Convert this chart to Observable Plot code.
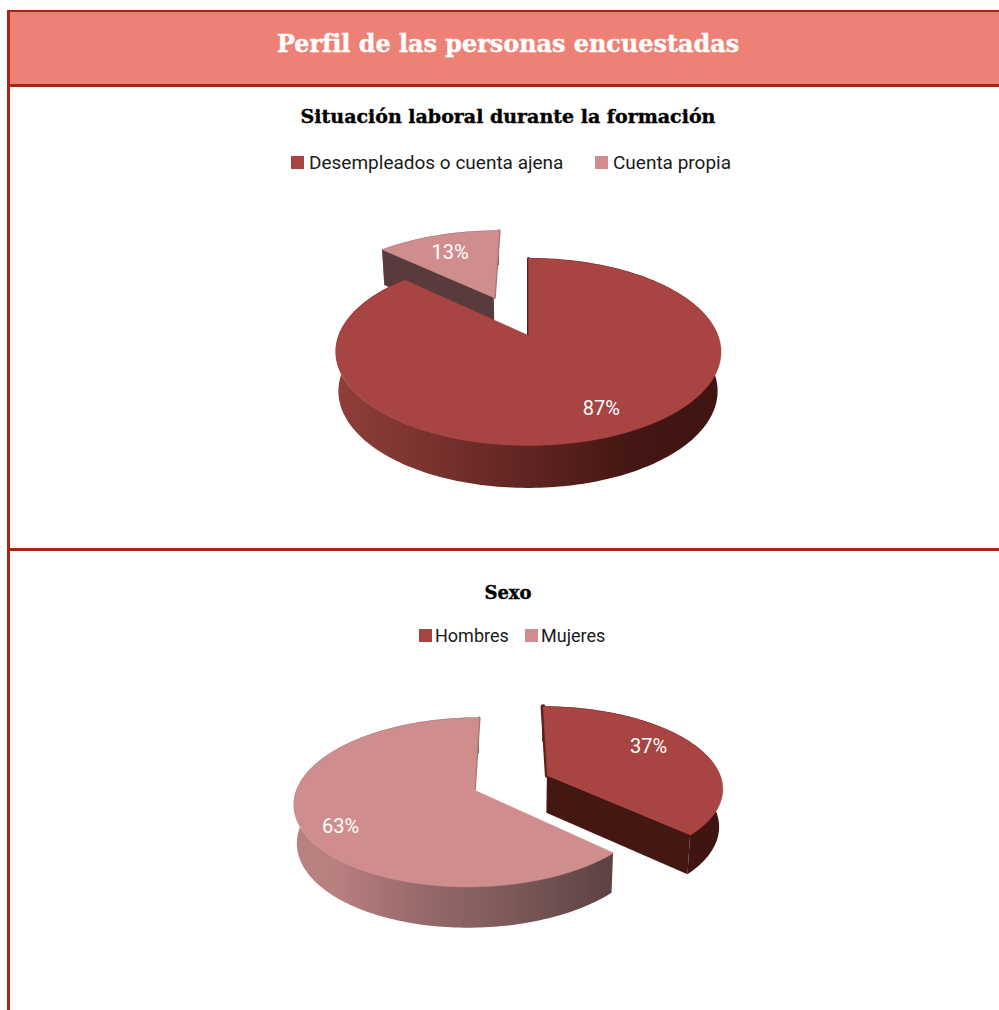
<!DOCTYPE html>
<html lang="es">
<head>
<meta charset="utf-8">
<script src="https://cdn.jsdelivr.net/npm/d3@7"></script>
<script src="https://cdn.jsdelivr.net/npm/@observablehq/plot@0.6"></script>
<style>
html,body{margin:0;padding:0;background:#fff;overflow:hidden}
#page{position:relative;width:999px;height:1010px;overflow:hidden;background:#fff}
#page>div,#page>svg,#page>span{position:absolute}
.bar{background:#aa2412}
#head{left:10px;top:12px;width:989px;height:72px;background:#ee8176}
.ttl{font-family:"DejaVu Serif",serif;font-weight:700;white-space:nowrap;transform:translate(-50%,-50%);-webkit-text-stroke:.4px currentColor}
.lg{font-family:Roboto,sans-serif;color:#1a1a1a;white-space:nowrap;transform:translateY(-50%)}
.sw{width:13px;height:13px}
</style>
</head>
<body>
<div id="page"></div>
<script>
// ---- data
const pageTitle = "Perfil de las personas encuestadas";
const chart1Title = "Situación laboral durante la formación";
const chart1Labels = ["Desempleados o cuenta ajena", "Cuenta propia"];
const chart1Values = [87, 13];
const chart2Title = "Sexo";
const chart2Labels = ["Hombres", "Mujeres"];
const chart2Values = [37, 63];

// ---- styles
const red = {top:"#a84441", wall:"#441713", sliver:"#5a1f1b", stops:["#8f3f3a","#7a322d","#5f2522","#461714","#3f1411"]};
const pink = {top:"#cf8e8d", wall:"#5a3b3b", sliver:"#a87272", stops:["#b98080","#97696a","#7d5959","#5f4444","#533838"]};
const seriesStyles = [red, pink];

const page = document.getElementById("page");
function el(cls, css, text){
  const d = document.createElement("div");
  if (cls) d.className = cls;
  d.style.cssText = css;
  if (text) d.textContent = text;
  page.appendChild(d);
  return d;
}

// page furniture
el("", "", "").id = "head";
el("bar", "left:7px;top:10px;width:992px;height:2px");
el("bar", "left:7px;top:10px;width:3px;height:1000px");
el("bar", "left:7px;top:84px;width:992px;height:3px");
el("bar", "left:7px;top:548px;width:992px;height:3px");
el("ttl", "left:508px;top:44px;font-size:23.9px;color:#fff", pageTitle);
el("ttl", "left:508px;top:116px;font-size:19px;color:#000", chart1Title);
el("ttl", "left:508px;top:592px;font-size:18px;color:#000", chart2Title);

// legends
function legend(labels, y, swatchXs, gap, size){
  labels.forEach((t,i)=>{
    el("sw", `left:${swatchXs[i]}px;top:${y-6.5}px;background:${seriesStyles[i].top}`);
    el("lg", `left:${swatchXs[i]+gap}px;top:${y}px;font-size:${size}px`, t);
  });
}
legend(chart1Labels, 162, [291, 595], 18, 19);
legend(chart2Labels, 635, [419, 525], 16, 18);

let gradientId = 0;
// pie in perspective
function pie({values, explode, top, height, cx, cy, R, Rf, k, H, order, sliver, labelPos}){
  const project = (u,v) => {
    const w = 1/(1-k*v), x = cx+R*u*w, y = cy+Rf*v*w;
    return {x, y, w, x2: cx+(x-cx)*0.985, y2: y+H*Math.sqrt(w)};
  };
  const total = d3.sum(values);
  let acc = 0;
  const slices = values.map((val,i)=>{
    const a0 = acc/total*2*Math.PI; acc += val;
    const a1 = acc/total*2*Math.PI, mid = (a0+a1)/2;
    const ox = Math.sin(mid)*explode[i], oy = -Math.cos(mid)*explode[i];
    const at = (r,a) => project(ox+r*Math.sin(a), oy-r*Math.cos(a));
    const n = Math.ceil((a1-a0)/(Math.PI/150));
    const arc = d3.range(n+1).map(j=>at(1,a0+(a1-a0)*j/n));
    return {i, val, a0, a1, mid, at, arc, style: seriesStyles[i]};
  });
  const xL = cx-R*1.02, xR = cx+R*1.02;
  const marks = [];
  for (const idx of order){
    const s = slices[idx];
    const id = "rim"+(gradientId++);
    // horizontal shading of the rim, positioned through the x scale
    marks.push((index, scales) => {
      const NS = "http://www.w3.org/2000/svg";
      const defs = document.createElementNS(NS,"defs");
      const g = document.createElementNS(NS,"linearGradient");
      g.setAttribute("id",id);
      g.setAttribute("gradientUnits","userSpaceOnUse");
      g.setAttribute("x1",scales.x(xL)); g.setAttribute("x2",scales.x(xR));
      g.setAttribute("y1",0); g.setAttribute("y2",0);
      s.style.stops.forEach((c,j)=>{
        const st = document.createElementNS(NS,"stop");
        st.setAttribute("offset",j/(s.style.stops.length-1));
        st.setAttribute("stop-color",c);
        g.appendChild(st);
      });
      defs.appendChild(g);
      return defs;
    });
    const apex = s.at(0,0), tip = s.at(1,0);
    // rim of the slice
    marks.push(Plot.area(s.arc,{x1:"x",y1:"y",x2:"x2",y2:"y2",fill:`url(#${id})`}));
    // flat cut faces turned to the viewer
    const faces = [[s.a0, s.a0-Math.PI/2, s.arc[0]], [s.a1, s.a1+Math.PI/2, s.arc[s.arc.length-1]]];
    for (const [a,n,e] of faces) {
      if (-Math.cos(n) > 0.1) marks.push(Plot.area([apex,e],{x1:"x",y1:"y",x2:"x2",y2:"y2",fill:s.style.wall}));
    }
    // sliver of the wall at twelve o'clock
    marks.push(Plot.line([tip,apex],{x:"x",y:"y",stroke:s.style.sliver,strokeWidth:sliver[idx]}));
    // top face
    marks.push(Plot.line([apex,...s.arc,apex],{x:"x",y:"y",fill:s.style.top,stroke:s.style.top,strokeWidth:0.5}));
  }
  // percent labels
  const lab = slices.map(s=>{
    const p = s.at(labelPos[s.i].r, s.mid+labelPos[s.i].turn*Math.PI/180);
    return {x:p.x,y:p.y,t:Math.round(s.val/total*100)+"%"};
  });
  marks.push(Plot.text(lab,{x:"x",y:"y",text:"t",fill:"#fff",fontSize:20,fontFamily:"Roboto,sans-serif"}));
  const svg = Plot.plot({
    width:999, height, margin:0,
    x:{domain:[0,999],axis:null},
    y:{domain:[height,0],axis:null},
    style:{background:"transparent",overflow:"visible"},
    marks
  });
  svg.style.left="0px"; svg.style.top=top+"px";
  page.appendChild(svg);
}

pie({values:chart1Values, explode:[0,0.49],
  top:190, height:350, cx:528, cy:145, R:189.5, Rf:90.6, k:0.176, H:39,
  order:[1,0], sliver:[3,3],
  labelPos:[{r:0.78,turn:-2.2},{r:0.71,turn:-1.5}]});
pie({values:chart2Values, explode:[0.22,0.235],
  top:690, height:300, cx:512, cy:92, R:175, Rf:80.5, k:0.143, H:38,
  order:[1,0], sliver:[5,3],
  labelPos:[{r:0.74,turn:-8.5},{r:0.81,turn:-7.5}]});
</script>
</body>
</html>
